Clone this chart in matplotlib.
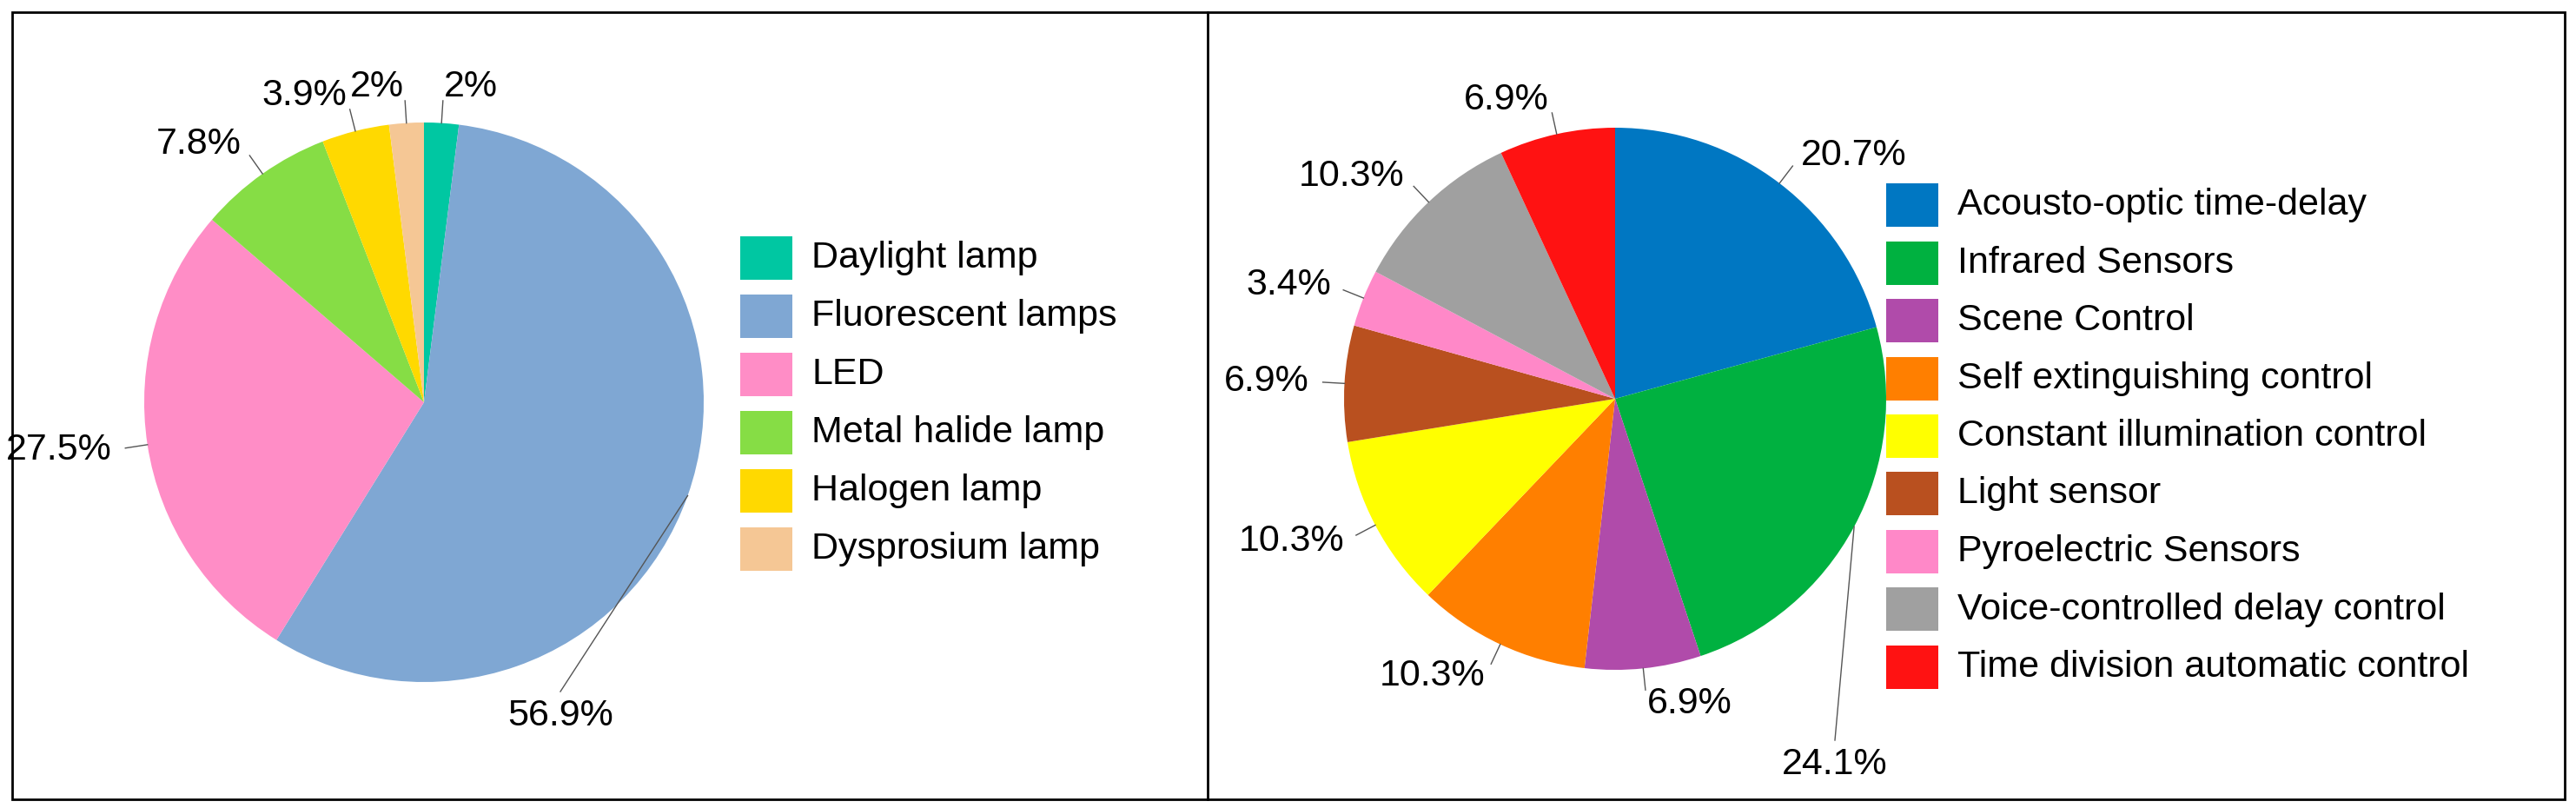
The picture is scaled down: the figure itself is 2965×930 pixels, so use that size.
import numpy as np
import matplotlib.pyplot as plt
from matplotlib.patches import Rectangle, Wedge

plt.rcParams["font.family"] = ["Liberation Sans", "DejaVu Sans"]

lamp_names = ["Daylight lamp", "Fluorescent lamps", "LED", "Metal halide lamp",
              "Halogen lamp", "Dysprosium lamp"]
lamp_share = [2, 56.9, 27.5, 7.8, 3.9, 2]
lamp_colors = ["#00C7A2", "#7FA7D3", "#FF8DC6", "#86DD45", "#FFD900", "#F5C795"]

ctrl_names = ["Acousto-optic time-delay", "Infrared Sensors", "Scene Control",
              "Self extinguishing control", "Constant illumination control",
              "Light sensor", "Pyroelectric Sensors", "Voice-controlled delay control",
              "Time division automatic control"]
ctrl_share = [20.7, 24.1, 6.9, 10.3, 10.3, 6.9, 3.4, 10.3, 6.9]
ctrl_colors = ["#0077C2", "#00B140", "#B04BAA", "#FF7F00", "#FFFF00",
               "#B9501F", "#FF88C8", "#A0A0A0", "#FF1212"]

W, H = 2965, 930
FS = 31

fig = plt.figure(figsize=(W / 100, H / 100), dpi=100)
ax = fig.add_axes([0, 0, 1, 1])
ax.set_xlim(0, W)
ax.set_ylim(H, 0)
ax.set_aspect("equal")
ax.axis("off")

# panel borders
ax.add_patch(Rectangle((14, 14), 2952 - 14, 906, fill=False, lw=2, ec="black"))
ax.plot([1390, 1390], [14, 920], color="black", lw=2)


def draw_pie(values, colors, cx, cy, r, moved=None):
    # moved: slice index -> label position pushed away from the pie (pixels)
    moved = moved or {}
    start = 90.0
    total = sum(values)
    for i, (v, c) in enumerate(zip(values, colors)):
        sweep = 360.0 * v / total
        # y axis is inverted, so angles are flipped
        ax.add_patch(Wedge((cx, cy), r, -start, -(start - sweep), fc=c, lw=0))
        mid = np.deg2rad(start - sweep / 2)
        ux, uy = np.cos(mid), -np.sin(mid)
        ex, ey = cx + ux * r, cy + uy * r
        if i in moved:
            tx, ty = moved[i]
            ax.plot([ex, tx], [ey, ty - 28], color="#555555", lw=1)
            ax.text(tx, ty, f"{v:g}%", fontsize=FS, ha="center", va="center")
        else:
            ax.plot([ex, cx + ux * r * 1.08], [ey, cy + uy * r * 1.08],
                    color="#555555", lw=1)
            ha = "left" if ux > 0.05 else ("right" if ux < -0.05 else "center")
            ax.text(cx + ux * r * 1.13, cy + uy * r * 1.13, f"{v:g}%", fontsize=FS,
                    ha=ha, va="center")
        start -= sweep


def draw_legend(names, colors, x, y0, dy):
    for i, (n, c) in enumerate(zip(names, colors)):
        y = y0 + i * dy
        ax.add_patch(Rectangle((x, y - 25), 60, 50, fc=c, lw=0))
        ax.text(x + 82, y, n, fontsize=FS, va="center", ha="left")


draw_pie(lamp_share, lamp_colors, 488, 463, 322, moved={1: (645, 824)})
draw_legend(lamp_names, lamp_colors, 852, 297, 67)

draw_pie(ctrl_share, ctrl_colors, 1859, 459, 312, moved={1: (2112, 880)})
draw_legend(ctrl_names, ctrl_colors, 2171, 236, 66.5)

fig.savefig("out.png", dpi=100)
